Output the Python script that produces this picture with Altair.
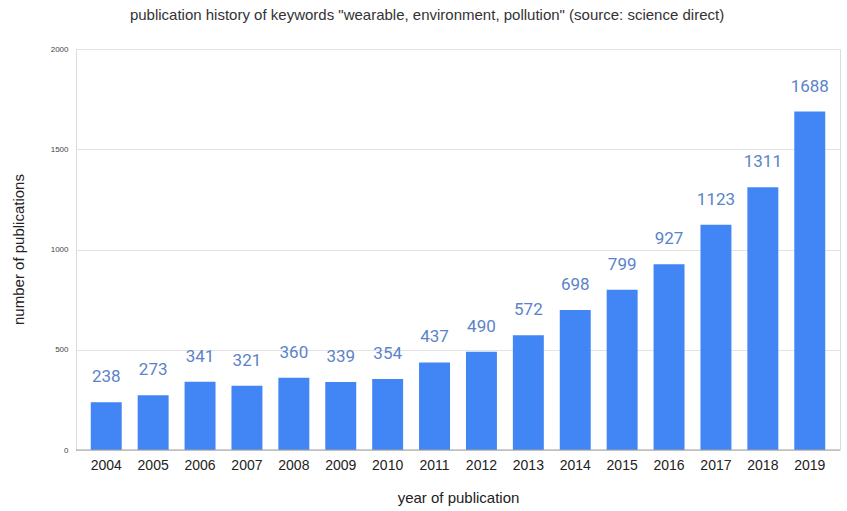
import altair as alt
import pandas as pd

years = ["2004", "2005", "2006", "2007", "2008", "2009", "2010", "2011",
         "2012", "2013", "2014", "2015", "2016", "2017", "2018", "2019"]
counts = [238, 273, 341, 321, 360, 339, 354, 437,
          490, 572, 698, 799, 927, 1123, 1311, 1688]

df = pd.DataFrame({"year": years, "count": counts})

x = alt.X("year:N", sort=years, title="year of publication",
          scale=alt.Scale(paddingInner=0.34, paddingOuter=0.315),
          axis=alt.Axis(labelAngle=0, labelFontSize=14, labelColor="#222222",
                        labelFont="Liberation Sans", labelPadding=8,
                        titleFont="Liberation Sans", titleFontSize=15,
                        titleFontWeight="normal", titleColor="#222222",
                        titlePadding=18, ticks=False, domain=False, grid=False))
y = alt.Y("count:Q", title="number of publications",
          scale=alt.Scale(domain=[0, 2000], nice=False),
          axis=alt.Axis(values=[0, 500, 1000, 1500, 2000], format="d",
                        labelFontSize=8, labelColor="#444444",
                        labelFont="Liberation Sans",
                        labelPadding=8, ticks=False, domain=False,
                        gridColor="#e3e3e3", gridWidth=1,
                        titleFont="Liberation Sans", titleFontSize=15,
                        titleFontWeight="normal", titleColor="#222222",
                        titleX=-58, titleY=200, titleAngle=-90,
                        titleAlign="center", titleBaseline="middle"))

bars = alt.Chart(df).mark_bar(color="#4285F4").encode(x=x, y=y)

labels = alt.Chart(df).mark_text(
    baseline="bottom", dy=-16, font="Roboto", fontSize=17, color="#5b83c9"
).encode(x=alt.X("year:N", sort=years), y="count:Q", text="count:Q")

zero = alt.Chart(pd.DataFrame({"v": [0]})).mark_rule(color="#9e9e9e").encode(y="v:Q")

chart = alt.layer(bars, zero, labels).properties(
    width=764, height=401,
    title=alt.TitleParams(
        'publication history of keywords "wearable, environment, pollution" (source: science direct)',
        font="Liberation Sans", fontSize=15, fontWeight="normal", color="#333333",
        anchor="middle", dx=-31, offset=22),
    autosize=alt.AutoSizeParams(type="none"),
    padding={"left": 76, "top": 49, "right": 7, "bottom": 61},
).configure_view(stroke=None).configure(background="white")

chart.save("out.html", embed_options={"renderer": "svg", "actions": False})
